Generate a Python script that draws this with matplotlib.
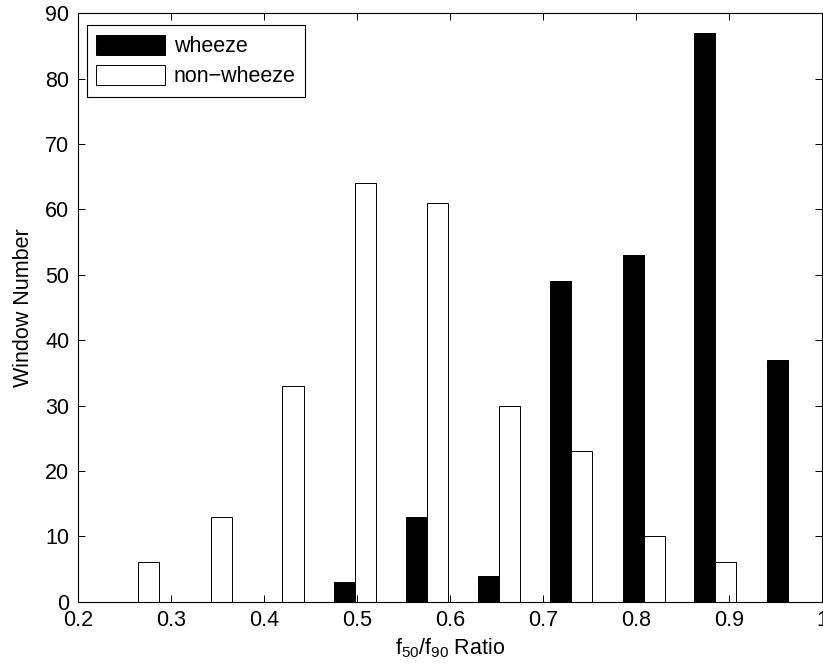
import numpy as np
import matplotlib
matplotlib.use("Agg")
import matplotlib.pyplot as plt

plt.rcParams['font.family'] = ['Liberation Sans', 'DejaVu Sans']
plt.rcParams['mathtext.fontset'] = 'custom'
plt.rcParams['mathtext.rm'] = 'Liberation Sans'
plt.rcParams['mathtext.it'] = 'Liberation Sans'

# bin centres of the f50/f90 ratio histogram
bin_centers = [0.265, 0.343, 0.420, 0.498, 0.575, 0.653, 0.730, 0.808, 0.885, 0.963]
wheeze = [0, 0, 0, 3, 13, 4, 49, 53, 87, 37]
non_wheeze = [6, 13, 33, 64, 61, 30, 23, 10, 6, 0]

x_ticks = [0.2, 0.3, 0.4, 0.5, 0.6, 0.7, 0.8, 0.9, 1.0]
x_ticklabels = ["0.2", "0.3", "0.4", "0.5", "0.6", "0.7", "0.8", "0.9", "1"]
y_ticks = [0, 10, 20, 30, 40, 50, 60, 70, 80, 90]

FS = 15.5
bar_w = 0.0226

fig = plt.figure(figsize=(8.23, 6.70), dpi=100, facecolor="white")
ax = fig.add_axes([0.0944, 0.102, 0.9048, 0.878])

xc = np.array(bin_centers)
ax.bar(xc - bar_w / 2, wheeze, width=bar_w, color="black", edgecolor="black",
       linewidth=0.7, label="wheeze")
ax.bar(xc + bar_w / 2, non_wheeze, width=bar_w, color="white", edgecolor="black",
       linewidth=0.7, label="non\u2212wheeze")

ax.set_xlim(0.2, 1.0)
ax.set_ylim(0, 90)
ax.set_xticks(x_ticks)
ax.set_xticklabels(x_ticklabels)
ax.set_yticks(y_ticks)

ax.tick_params(direction="in", length=5, width=0.7, top=True, right=True,
               labelsize=FS, pad=6)
for s in ax.spines.values():
    s.set_linewidth(0.8)

ax.set_xlabel(r"$\mathregular{f_{50}/f_{90}}$ Ratio", fontsize=FS, labelpad=4)
ax.set_ylabel("Window Number", fontsize=FS, labelpad=8)

leg = ax.legend(loc="upper left", bbox_to_anchor=(0.012, 0.980), borderaxespad=0,
                fontsize=FS, fancybox=False, edgecolor="black", framealpha=1,
                handlelength=3.2, handleheight=1.05, handletextpad=0.4,
                labelspacing=0.35, borderpad=0.45)
leg.get_frame().set_linewidth(0.8)

fig.savefig("out.png", dpi=100)
